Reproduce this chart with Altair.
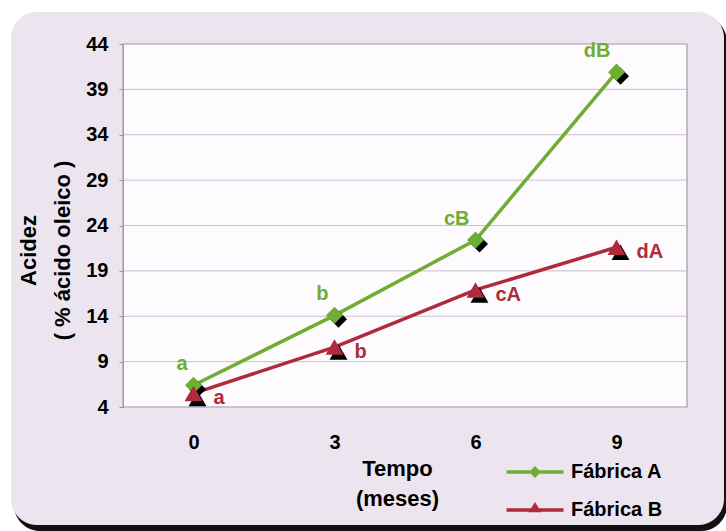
import altair as alt
import pandas as pd

# ---- data ----
months = [0, 3, 6, 9]
acidez_a = [6.4, 14.1, 22.4, 40.9]
acidez_b = [5.5, 10.6, 16.9, 21.6]
letras_a = ["a", "b", "cB", "dB"]
letras_b = ["a", "b", "cA", "dA"]
series = ["Fábrica A", "Fábrica B"]
y_ticks = [4, 9, 14, 19, 24, 29, 34, 39, 44]

GREEN = "#70ad33"
RED = "#b02a3c"
CARD = "#ece5ef"
FONT = "Liberation Sans"
W, H = 564, 363

df = pd.DataFrame({
    "t": months * 2,
    "v": acidez_a + acidez_b,
    "s": [series[0]] * len(months) + [series[1]] * len(months),
    "lbl": letras_a + letras_b,
})
grid_df = pd.DataFrame({"v": y_ticks})

x_enc = alt.X(
    "t:O", sort=months,
    axis=alt.Axis(
        title=["Tempo", "(meses)"], titleFont=FONT, titleFontSize=22,
        titleFontWeight="bold", titleColor="black", titleX=274, titleY=68,
        titleAlign="center", titleBaseline="alphabetic", titleLineHeight=30,
        labelAngle=0, labelFont=FONT, labelFontSize=20, labelFontWeight="bold",
        labelColor="black", labelPadding=25, ticks=False, tickSize=0,
        domain=False, grid=False, zindex=1,
    ),
)
y_enc = alt.Y(
    "v:Q",
    scale=alt.Scale(domain=[4, 44], nice=False, zero=False),
    axis=alt.Axis(
        title=["Acidez", "( % ácido oleico )"], titleFont=FONT, titleFontSize=22,
        titleFontWeight="bold", titleColor="black", titleX=-95, titleY=206,
        titleAngle=270, titleAlign="center", titleBaseline="middle",
        titleLineHeight=34, labelFont=FONT, labelFontSize=20,
        labelFontWeight="bold", labelColor="black", labelPadding=11,
        tickSize=4, tickColor="#9a939e", domainColor="#a29aa6",
        values=y_ticks, grid=False, zindex=1,
    ),
)
color_scale = alt.Scale(domain=series, range=[GREEN, RED])

PATH_A = "M-3.35,-0.2L3.35,-0.2L3.35,0.2L-3.35,0.2Z M0,-0.7L0.7,0L0,0.7L-0.7,0Z"
PATH_B = "M-3.35,-0.2L3.35,-0.2L3.35,0.2L-3.35,0.2Z M0,-0.95L0.75,0.25L-0.75,0.25Z"
shape_scale = alt.Scale(domain=series, range=[PATH_A, PATH_B])

legend = alt.Legend(
    title=None, orient="none", legendX=402, legendY=418, padding=0,
    symbolSize=289, labelFont=FONT, labelFontSize=20, labelFontWeight="bold",
    labelColor="black", labelOffset=26, rowPadding=18, zindex=1,
    symbolOpacity=1, symbolStrokeWidth=0,
)

stroke_enc = alt.Stroke("s:N", scale=color_scale, legend=None)
fill_enc = alt.Fill("s:N", scale=color_scale, legend=None)

one = alt.Data(values=[{"k": 0}])

shadow = alt.Chart(one).mark_rect(color="#111111", cornerRadius=26).encode(
    x=alt.value(-109), x2=alt.value(604), y=alt.value(-28), y2=alt.value(487))
card = alt.Chart(one).mark_rect(color=CARD, cornerRadius=26).encode(
    x=alt.value(-112), x2=alt.value(601), y=alt.value(-32), y2=alt.value(481))
plot_bg = alt.Chart(one).mark_rect(fill="#fdfbfd", stroke="#a29aa6", strokeWidth=1.2).encode(
    x=alt.value(0), x2=alt.value(W), y=alt.value(0), y2=alt.value(H))

grid = alt.Chart(grid_df).mark_rule(color="#c9bfd0", strokeWidth=1).encode(
    y=y_enc, x=alt.value(0), x2=alt.value(W))

lines = alt.Chart(df).mark_line(strokeWidth=3.5).encode(
    x=x_enc, y=y_enc, stroke=stroke_enc)

# legend-only layer (no rows drawn; explicit domains keep the entries)
leg = alt.Chart(df).transform_filter("false").mark_point(filled=True).encode(
    x=x_enc, y=y_enc,
    color=alt.Color("s:N", scale=color_scale, legend=legend),
    shape=alt.Shape("s:N", scale=shape_scale, legend=legend),
)

is_a = alt.datum.s == series[0]
is_b = alt.datum.s == series[1]

sh_a = alt.Chart(df).transform_filter(is_a).mark_point(
    shape="diamond", filled=True, size=290, opacity=1, color="black",
    xOffset=4, yOffset=4).encode(x=x_enc, y=y_enc)
sh_b = alt.Chart(df).transform_filter(is_b).mark_point(
    shape="triangle-up", filled=True, size=320, opacity=1, color="black",
    xOffset=4, yOffset=5).encode(x=x_enc, y=y_enc)
pt_a = alt.Chart(df).transform_filter(is_a).mark_point(
    shape="diamond", filled=True, size=290, opacity=1, strokeWidth=0).encode(
    x=x_enc, y=y_enc, fill=fill_enc)
pt_b = alt.Chart(df).transform_filter(is_b).mark_point(
    shape="triangle-up", filled=True, size=320, opacity=1, strokeWidth=0).encode(
    x=x_enc, y=y_enc, fill=fill_enc)

txt_a = alt.Chart(df).transform_filter(is_a).mark_text(
    align="right", baseline="bottom", dx=-6, dy=-11, font=FONT,
    fontSize=20, fontWeight="bold").encode(
    x=x_enc, y=y_enc, text="lbl:N", fill=fill_enc)
txt_b = alt.Chart(df).transform_filter(is_b).mark_text(
    align="left", baseline="middle", dx=20, dy=5, font=FONT,
    fontSize=20, fontWeight="bold").encode(
    x=x_enc, y=y_enc, text="lbl:N", fill=fill_enc)

chart = alt.layer(
    leg, shadow, card, plot_bg, grid, lines, sh_a, sh_b, pt_a, pt_b, txt_a, txt_b
).properties(
    width=W, height=H,
    padding={"left": 123, "top": 44, "right": 39, "bottom": 124},
    autosize=alt.AutoSizeParams(type="none"),
    background="white",
).configure(font=FONT).configure_view(stroke="transparent")

chart.save("out.html", embed_options={"renderer": "svg", "actions": False})
